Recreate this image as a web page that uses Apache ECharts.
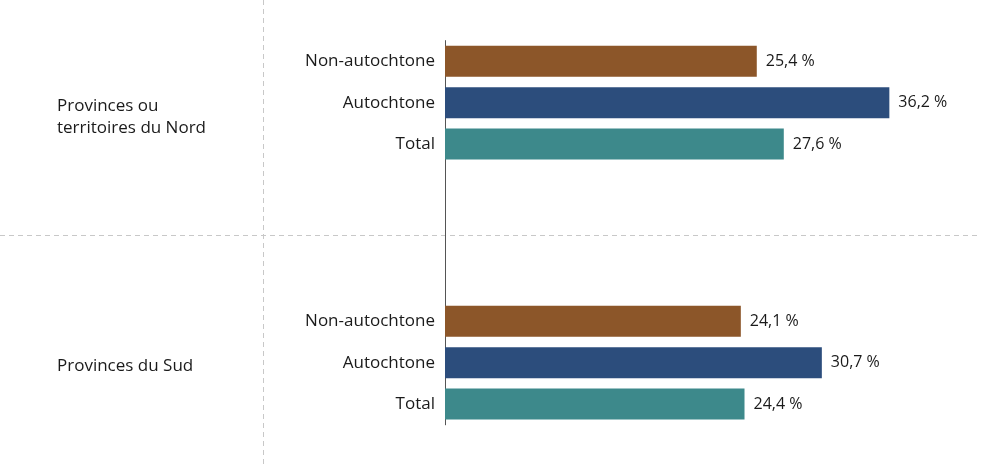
<!DOCTYPE html>
<html>
<head>
<meta charset="utf-8">
<script src="https://cdn.jsdelivr.net/npm/echarts@6/dist/echarts.min.js"></script>
<style>
html,body{margin:0;padding:0;background:#fff;}
#chart{width:1000px;height:464px;}
</style>
</head>
<body>
<div id="chart"></div>
<script>
const categories = ['Non-autochtone', 'Autochtone', 'Total'];
const groupLabels = ['Provinces ou\nterritoires du Nord', 'Provinces du Sud'];
const northValues = [25.4, 36.2, 27.6];
const southValues = [24.1, 30.7, 24.4];
const barColors = ['#8C5629', '#2C4D7C', '#3D898B'];

const FONT = '"Open Sans", "Noto Sans", sans-serif';
const TEXT = '#1a1a1a';

const northCats = categories.concat(['', '']);
const southCats = ['', ''].concat(categories);
const northData = northValues.map((v, i) => ({ value: v, itemStyle: { color: barColors[i] } })).concat([null, null]);
const southData = [null, null].concat(southValues.map((v, i) => ({ value: v, itemStyle: { color: barColors[i] } })));

const fmt = p => p.value == null ? '' : p.value.toFixed(1).replace('.', ',') + ' %';

const chart = echarts.init(document.getElementById('chart'), null, { renderer: 'canvas' });

const xAxisCommon = {
  type: 'value', min: 0, max: 40,
  axisLine: { show: false }, axisTick: { show: false },
  axisLabel: { show: false }, splitLine: { show: false }
};
const yAxisCommon = {
  type: 'category', inverse: true,
  axisLine: { show: true, lineStyle: { color: '#555', width: 1 } },
  axisTick: { show: false },
  axisLabel: { fontFamily: FONT, fontSize: 17, color: TEXT, margin: 10 }
};
const seriesCommon = {
  type: 'bar', barWidth: 31,
  label: { show: true, position: 'right', distance: 9, fontFamily: FONT, fontSize: 16, color: TEXT, formatter: fmt },
  silent: true
};

chart.setOption({
  animation: false,
  backgroundColor: '#fff',
  grid: [
    { left: 445, right: 64, top: 40.6, height: 207 },
    { left: 445, right: 64, top: 217.8, height: 207 }
  ],
  xAxis: [
    Object.assign({ gridIndex: 0 }, xAxisCommon),
    Object.assign({ gridIndex: 1 }, xAxisCommon)
  ],
  yAxis: [
    Object.assign({ gridIndex: 0, data: northCats }, yAxisCommon),
    Object.assign({ gridIndex: 1, data: southCats }, yAxisCommon)
  ],
  series: [
    Object.assign({ xAxisIndex: 0, yAxisIndex: 0, data: northData }, seriesCommon),
    Object.assign({ xAxisIndex: 1, yAxisIndex: 1, data: southData }, seriesCommon)
  ],
  graphic: [
    { type: 'line', shape: { x1: 263.5, y1: 0, x2: 263.5, y2: 464 }, style: { stroke: '#c8c8c8', lineWidth: 1, lineDash: [5, 4] }, z: -1 },
    { type: 'line', shape: { x1: 0, y1: 235.5, x2: 978, y2: 235.5 }, style: { stroke: '#c8c8c8', lineWidth: 1, lineDash: [5, 4] }, z: -1 },
    { type: 'text', left: 57, top: 95, style: { text: groupLabels[0], font: '17px ' + FONT, fill: TEXT, lineHeight: 22 } },
    { type: 'text', left: 57, top: 355, style: { text: groupLabels[1], font: '17px ' + FONT, fill: TEXT, lineHeight: 22 } }
  ]
});
</script>
</body>
</html>
